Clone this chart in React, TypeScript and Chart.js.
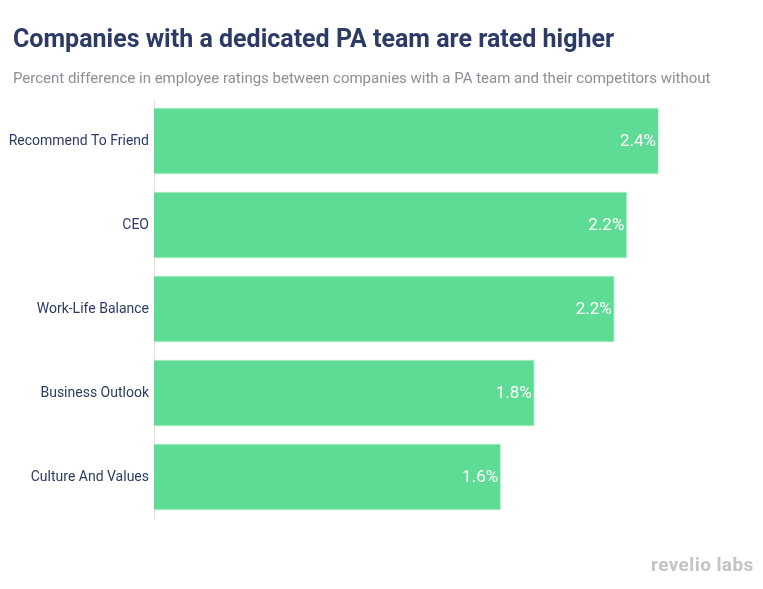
import React, { useEffect, useRef } from "react";
import { Chart, registerables } from "chart.js";

Chart.register(...registerables);

const categories = [
  "Recommend To Friend",
  "CEO",
  "Work-Life Balance",
  "Business Outlook",
  "Culture And Values",
];
const values = [2.4, 2.25, 2.19, 1.81, 1.65];
const valueLabels = ["2.4%", "2.2%", "2.2%", "1.8%", "1.6%"];

const TITLE = "Companies with a dedicated PA team are rated higher";
const SUBTITLE =
  "Percent difference in employee ratings between companies with a PA team and their competitors without";

const valueLabelPlugin = {
  id: "valueLabels",
  afterDatasetsDraw(chart: any) {
    const ctx = chart.ctx;
    const meta = chart.getDatasetMeta(0);
    ctx.save();
    ctx.fillStyle = "#ffffff";
    ctx.font = "17px Roboto";
    ctx.textAlign = "right";
    ctx.textBaseline = "middle";
    meta.data.forEach((bar: any, i: number) => {
      ctx.fillText(valueLabels[i], bar.x - 3, bar.y + 1);
    });
    ctx.restore();
  },
};

export default function App() {
  const ref = useRef<HTMLCanvasElement | null>(null);

  useEffect(() => {
    if (!ref.current) return;
    const chart = new Chart(ref.current, {
      type: "bar",
      data: {
        labels: categories,
        datasets: [
          {
            data: values,
            backgroundColor: "#5edb95",
            borderColor: "#c9f1da",
            borderWidth: 1,
            categoryPercentage: 0.8,
            barPercentage: 1,
          },
        ],
      },
      options: {
        indexAxis: "y",
        animation: false,
        responsive: false,
        maintainAspectRatio: false,
        layout: { padding: { top: 99, bottom: 70, left: 0, right: 62 } },
        plugins: {
          legend: { display: false },
          tooltip: { enabled: false },
        },
        scales: {
          x: {
            display: false,
            min: 0,
            max: 2.6,
          },
          y: {
            afterFit: (axis: any) => {
              axis.width = 154;
            },
            grid: { display: true, drawOnChartArea: false, drawTicks: false },
            border: { display: true, color: "#e4e4e4", width: 1 },
            ticks: {
              padding: 5,
              color: "#2c3b66",
              font: { family: "Roboto", size: 14 },
            },
          },
        },
      },
      plugins: [valueLabelPlugin],
    });
    return () => chart.destroy();
  }, []);

  return (
    <div
      style={{
        position: "fixed",
        left: 0,
        top: 0,
        width: 763,
        height: 589,
        background: "#ffffff",
        fontFamily: "Roboto",
      }}
    >
      <canvas
        ref={ref}
        width={763}
        height={589}
        style={{ position: "absolute", left: 0, top: 0 }}
      />
      <div
        style={{
          position: "absolute",
          left: 13,
          top: 23,
          fontSize: 25,
          fontWeight: 700,
          color: "#2c3b66",
          whiteSpace: "nowrap",
          lineHeight: "32px",
        }}
      >
        {TITLE}
      </div>
      <div
        style={{
          position: "absolute",
          left: 13,
          top: 68,
          fontSize: 15,
          color: "#8b8f96",
          whiteSpace: "nowrap",
          lineHeight: "20px",
        }}
      >
        {SUBTITLE}
      </div>
      <div
        style={{
          position: "absolute",
          left: 651,
          top: 553,
          fontSize: 19,
          fontWeight: 700,
          letterSpacing: 0.4,
          color: "#c2c4c8",
          whiteSpace: "nowrap",
          lineHeight: "24px",
        }}
      >
        revelio labs
      </div>
    </div>
  );
}
